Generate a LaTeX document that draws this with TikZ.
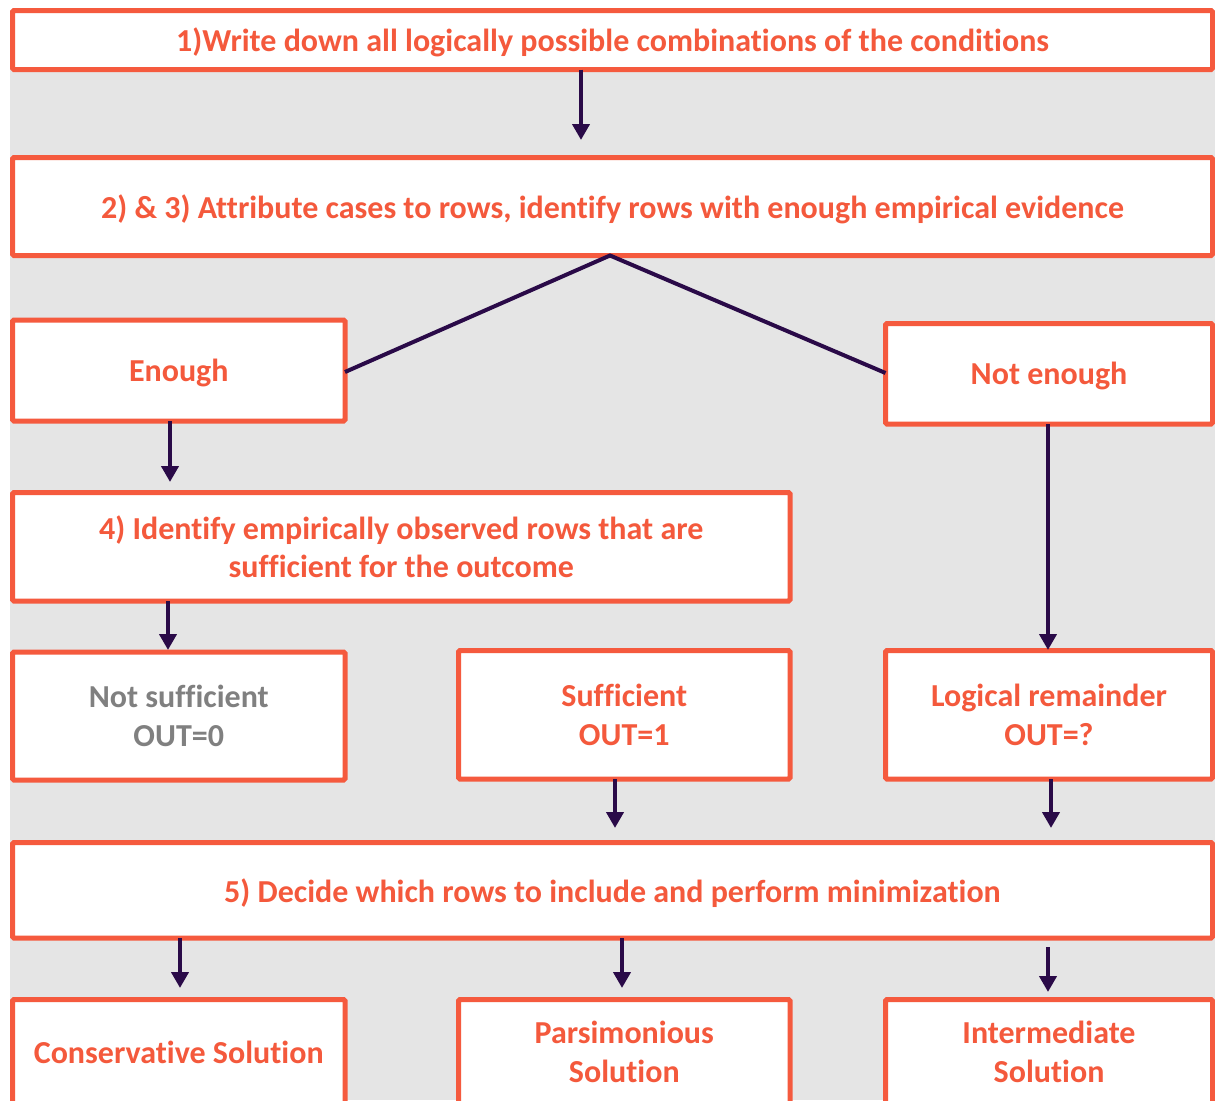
\documentclass[tikz,border=0pt]{standalone}
\usepackage{fontspec}
\setmainfont{Carlito}[Ligatures=NoCommon]
\usetikzlibrary{arrows.meta}
\definecolor{boxred}{HTML}{F55A3E}
\definecolor{txtred}{HTML}{F4593C}
\definecolor{txtgrey}{HTML}{808080}
\definecolor{arrpurple}{HTML}{2A0A48}
\definecolor{bggrey}{HTML}{E5E5E5}
\tikzset{
  stepbox/.style={draw=boxred, line width=5pt, fill=white, rounded corners=1.5pt,
    text=txtred, align=center, inner sep=0pt, outer sep=0pt,
    font=\fontsize{32}{38.5}\selectfont\bfseries},
  oneline/.style={text depth=0pt},
  arr/.style={draw=arrpurple, line width=4pt, -{Triangle[width=17pt,length=16pt]}},
  vline/.style={draw=arrpurple, line width=4pt, line join=miter},
}
\begin{document}
\begin{tikzpicture}[x=1pt,y=-1pt]
\useasboundingbox (0,0) rectangle (1215,1100);
\clip (0,0) rectangle (1215,1100);
\fill[white] (0,0) rectangle (1215,1100);
\fill[bggrey] (10,10) rectangle (1215,1100);

\node[stepbox, oneline, minimum width=1200pt, minimum height=59pt] (b1) at (612.5,40)
  {1)Write down all logically possible combinations of the conditions};
\node[stepbox, oneline, minimum width=1200pt, minimum height=98pt] (b2) at (612.5,206.5)
  {2) \& 3) Attribute cases to rows, identify rows with enough empirical evidence};
\node[stepbox, oneline, minimum width=332.5pt, minimum height=101pt] (en) at (178.75,370.5) {Enough};
\node[stepbox, oneline, minimum width=327pt, minimum height=100.5pt] (ne) at (1049,373.75) {Not enough};
\node[stepbox, minimum width=777.5pt, minimum height=108.5pt] (b4) at (401.25,546.75)
  {4) Identify empirically observed rows that are\\sufficient for the outcome};
\node[stepbox, minimum width=332.5pt, minimum height=128pt, text=txtgrey] (ns) at (178.75,716)
  {Not sufficient\\OUT=0};
\node[stepbox, minimum width=331.5pt, minimum height=128.5pt] (sf) at (624.25,714.75)
  {Sufficient\\OUT=1};
\node[stepbox, minimum width=327pt, minimum height=128.5pt] (lr) at (1049,714.75)
  {Logical remainder\\OUT=?};
\node[stepbox, oneline, minimum width=1200pt, minimum height=95.5pt] (b5) at (612.5,890.25)
  {5) Decide which rows to include and perform minimization};
\node[stepbox, minimum width=332.5pt, minimum height=105pt] (cs) at (178.75,1052)
  {Conservative Solution};
\node[stepbox, minimum width=331.5pt, minimum height=105pt] (ps) at (624.25,1052)
  {Parsimonious\\Solution};
\node[stepbox, minimum width=327pt, minimum height=105pt] (is) at (1049,1052)
  {Intermediate\\Solution};

% connectors
\draw[arr, shorten >=17.5pt] (b1.south -| 581,0) -- (b2.north -| 581,0);
\draw[vline] (en.east |- 0,372) -- (b2.south -| 610,0) -- (ne.west |- 0,373);
\draw[arr, shorten >=10.5pt] (en.south -| 170,0) -- (b4.north -| 170,0);
\draw[arr, shorten >=2pt] (b4.south -| 168,0) -- (ns.north -| 168,0);
\draw[arr, shorten >=0.5pt] (ne.south -| 1048,0) -- (lr.north -| 1048,0);
\draw[arr, shorten >=14.5pt] (sf.south -| 615,0) -- (b5.north -| 615,0);
\draw[arr, shorten >=14.5pt] (lr.south -| 1051,0) -- (b5.north -| 1051,0);
\draw[arr, shorten >=11.5pt] (b5.south -| 180,0) -- (cs.north -| 180,0);
\draw[arr, shorten >=11.5pt] (b5.south -| 622,0) -- (ps.north -| 622,0);
\draw[arr, shorten <=9pt, shorten >=7.5pt] (b5.south -| 1048,0) -- (is.north -| 1048,0);
\end{tikzpicture}
\end{document}
